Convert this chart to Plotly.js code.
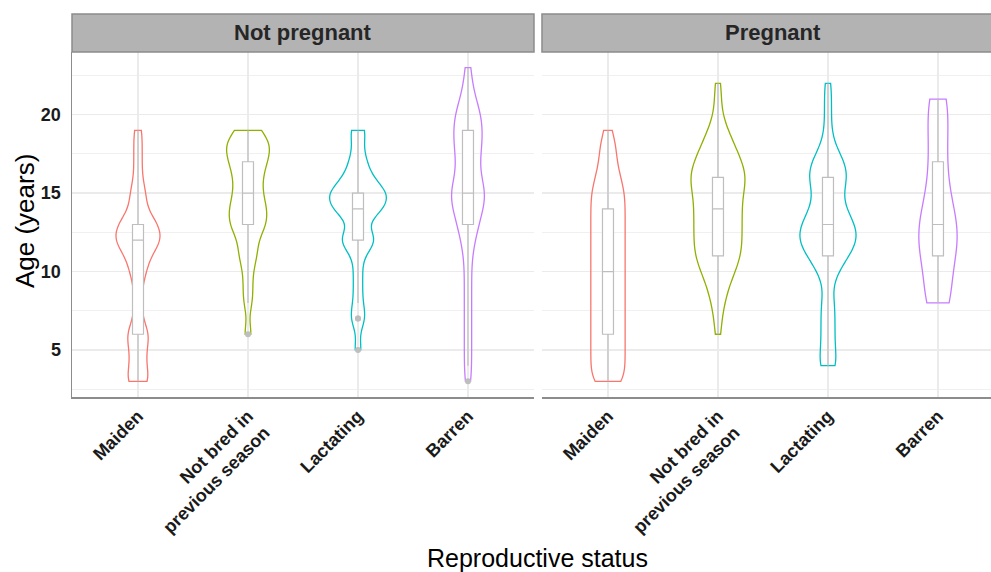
<!DOCTYPE html>
<html>
<head>
<meta charset="utf-8">
<script src="https://cdn.plot.ly/plotly-3.0.1.min.js"></script>
<style>html,body{margin:0;padding:0;background:#fff;}#chart{width:991px;height:572px;}</style>
</head>
<body>
<div id="chart"></div>
<script>
// Age values (years) on which the counts below are tallied
const ages = [3,4,5,6,7,8,9,10,11,12,13,14,15,16,17,18,19,20,21,22,23];
// Category tick labels and facet labels
const categories = ['Maiden', 'Not bred in<br>previous season', 'Lactating', 'Barren'];
const facets = ['Not pregnant', 'Pregnant'];
const notPregMaiden    = [3,2,2,3,1,1,1,2,3,6,5,2,2,1,1,1,1,0,0,0,0];
const notPregNotBred   = [0,0,0,1,0,1,1,1,2,2,4,4,3,3,4,5,3,0,0,0,0];
const notPregLactating = [0,0,1,0,2,1,1,1,1,5,1,6,7,3,2,1,2,0,0,0,0];
const notPregBarren    = [1,1,1,1,1,1,1,1,1,2,3,4,6,3,3,4,4,4,2,1,1];
const pregMaiden       = [4,4,4,4,4,4,4,4,4,4,4,4,4,3,2,2,1,0,0,0,0];
const pregNotBred      = [0,0,0,1,1,2,3,5,7,7,7,7,7,9,7,5,3,1,1,1,0];
const pregLactating    = [0,3,2,2,2,2,1,3,6,9,8,5,4,6,5,2,1,1,1,1,0];
const pregBarren       = [0,0,0,0,0,3,1,1,2,3,2,2,1,1,1,1,1,1,2,0,0];

const colors = ['#F8766D', '#8FB000', '#00BFC4', '#C77CFF'];
const FONT = 'Liberation Sans, Arial, sans-serif';

function expand(counts) {
  const out = [];
  counts.forEach((c, i) => { for (let k = 0; k < c; k++) out.push(ages[i]); });
  return out;
}

const groups = [
  {counts: notPregMaiden,    cat: 0, panel: 0, bw: 0.7, w: 0.40},
  {counts: notPregNotBred,   cat: 1, panel: 0, bw: 0.7, w: 0.388},
  {counts: notPregLactating, cat: 2, panel: 0, bw: 0.7, w: 0.515},
  {counts: notPregBarren,    cat: 3, panel: 0, bw: 1.0, w: 0.297},
  {counts: pregMaiden,       cat: 0, panel: 1, bw: 0.8, w: 0.312},
  {counts: pregNotBred,      cat: 1, panel: 1, bw: 0.9, w: 0.49},
  {counts: pregLactating,    cat: 2, panel: 1, bw: 0.8, w: 0.509},
  {counts: pregBarren,       cat: 3, panel: 1, bw: 1.6, w: 0.348}
];

const traces = [];
groups.forEach(g => {
  const ys = expand(g.counts);
  const xs = ys.map(() => categories[g.cat]);
  const xa = g.panel === 0 ? 'x' : 'x2';
  const ya = g.panel === 0 ? 'y' : 'y2';
  traces.push({
    type: 'violin', x: xs, y: ys, xaxis: xa, yaxis: ya,
    name: facets[g.panel] + ' ' + categories[g.cat],
    line: {color: colors[g.cat], width: 1.3},
    fillcolor: 'rgba(255,255,255,0)',
    spanmode: 'hard', bandwidth: g.bw, width: g.w,
    points: false, box: {visible: false}, meanline: {visible: false},
    hoverinfo: 'skip', showlegend: false
  });
});
groups.forEach(g => {
  const ys = expand(g.counts);
  const xs = ys.map(() => categories[g.cat]);
  const xa = g.panel === 0 ? 'x' : 'x2';
  const ya = g.panel === 0 ? 'y' : 'y2';
  traces.push({
    type: 'box', x: xs, y: ys, xaxis: xa, yaxis: ya,
    width: 0.1, whiskerwidth: 0,
    line: {color: '#BEBEBE', width: 1.2},
    fillcolor: '#FFFFFF',
    boxpoints: 'outliers', jitter: 0, pointpos: 0,
    marker: {color: '#BEBEBE', size: 6, line: {width: 0}},
    hoverinfo: 'skip', showlegend: false
  });
});

const tickFont = {family: FONT, size: 18, color: '#1A1A1A', weight: 'bold'};
const xBase = {
  type: 'category', categoryorder: 'array', categoryarray: categories,
  showgrid: true, gridcolor: '#EBEBEB', gridwidth: 1.5,
  showline: true, linecolor: '#8C8C8C', linewidth: 1.5,
  ticks: '', tickangle: -45, tickfont: tickFont, zeroline: false, fixedrange: true
};
const yBase = {
  range: [2, 24], tick0: 0, dtick: 5,
  showgrid: true, gridcolor: '#EBEBEB', gridwidth: 1.5,
  minor: {tick0: 2.5, dtick: 5, showgrid: true, gridcolor: '#F0F0F0', gridwidth: 1},
  zeroline: false, ticks: '', tickfont: tickFont, fixedrange: true
};

const layout = {
  width: 991, height: 572,
  margin: {l: 72, r: 0, t: 52, b: 175},
  paper_bgcolor: '#FFFFFF', plot_bgcolor: '#FFFFFF',
  font: {family: FONT},
  showlegend: false,
  violinmode: 'overlay', boxmode: 'overlay',
  xaxis: Object.assign({}, xBase, {domain: [0, 0.5027], range: [-0.6, 3.6], anchor: 'y'}),
  xaxis2: Object.assign({}, xBase, {domain: [0.5114, 1], range: [-0.6, 3.482], anchor: 'y2'}),
  yaxis: Object.assign({}, yBase, {anchor: 'x', showline: true, linecolor: '#8C8C8C', linewidth: 1.5, ticklabelstandoff: 6}),
  yaxis2: Object.assign({}, yBase, {anchor: 'x2', showline: false, showticklabels: false}),
  shapes: [
    {type: 'rect', xref: 'paper', yref: 'paper', x0: 0, x1: 0.5027, y0: 1, y1: 1.1101,
     fillcolor: '#B3B3B3', line: {color: '#8C8C8C', width: 1.5}},
    {type: 'rect', xref: 'paper', yref: 'paper', x0: 0.5114, x1: 1.02, y0: 1, y1: 1.1101,
     fillcolor: '#B3B3B3', line: {color: '#8C8C8C', width: 1.5}}
  ],
  annotations: [
    {text: facets[0], xref: 'paper', yref: 'paper', x: 0.2514, y: 1.0551, showarrow: false,
     xanchor: 'center', yanchor: 'middle', font: {family: FONT, size: 22, color: '#262626', weight: 'bold'}},
    {text: facets[1], xref: 'paper', yref: 'paper', x: 0.7628, y: 1.0551, showarrow: false,
     xanchor: 'center', yanchor: 'middle', font: {family: FONT, size: 22, color: '#262626', weight: 'bold'}},
    {text: 'Age (years)', xref: 'paper', yref: 'paper', x: -0.0511, y: 0.51, showarrow: false,
     textangle: -90, xanchor: 'center', yanchor: 'middle', font: {family: FONT, size: 26, color: '#000000'}},
    {text: 'Reproductive status', xref: 'paper', yref: 'paper', x: 0.506, y: -0.4667, showarrow: false,
     xanchor: 'center', yanchor: 'middle', font: {family: FONT, size: 25, color: '#000000'}}
  ]
};

Plotly.newPlot('chart', traces, layout, {staticPlot: true, displayModeBar: false});
</script>
</body>
</html>
